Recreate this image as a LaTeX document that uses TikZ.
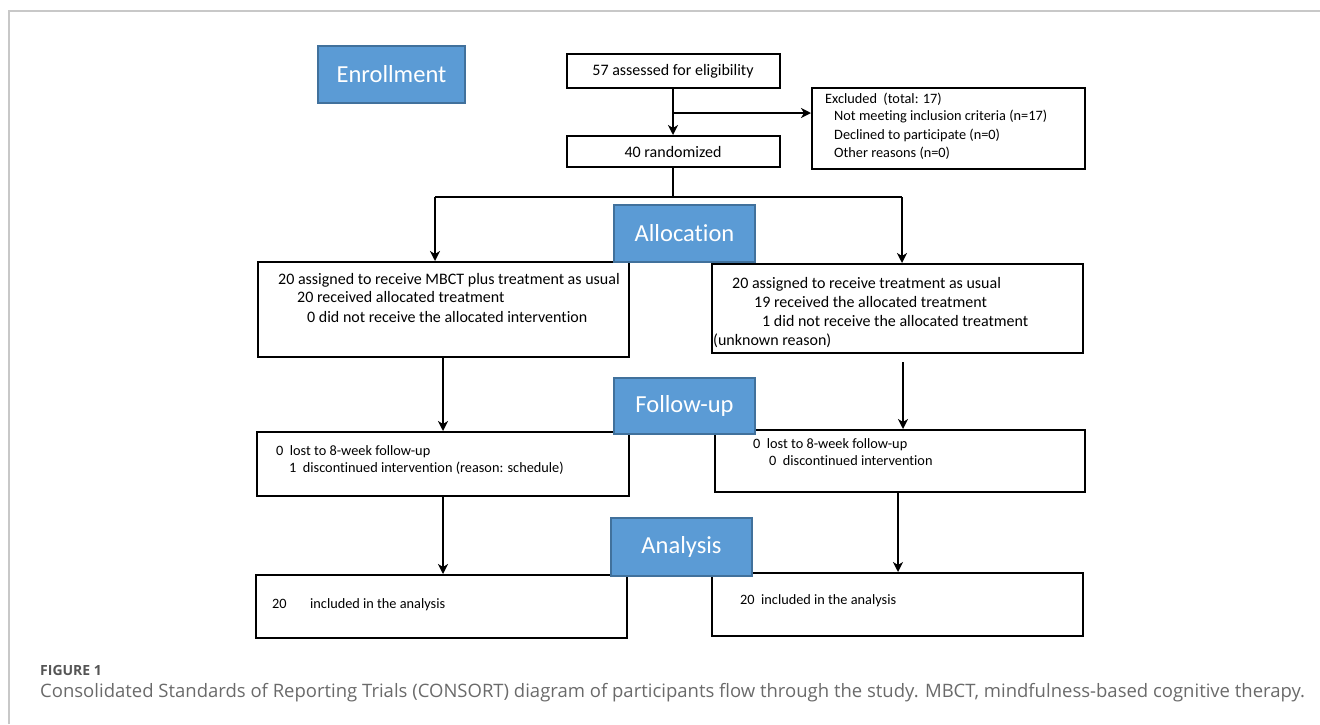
\documentclass[tikz,border=0pt]{standalone}
\usepackage{fontspec}
\setmainfont{Carlito}[Ligatures={NoCommon}]
\newfontfamily\capfont{Open Sans}
\usetikzlibrary{arrows.meta}
\definecolor{lblue}{HTML}{5B9BD5}
\definecolor{lblueb}{HTML}{41719C}
\definecolor{frame}{HTML}{C8C8C8}
\definecolor{capgray}{HTML}{6A6A6A}
\definecolor{figgray}{HTML}{555555}
\tikzset{
  flowbox/.style={draw=black, line width=2pt, fill=white, inner sep=0pt},
  labelbox/.style={draw=lblueb, line width=1.5pt, fill=lblue, text=white, inner sep=0pt, font=\fontsize{24.5}{28}\selectfont},
  bigtxt/.style={inner sep=0pt, anchor=mid west, font=\fontsize{16}{19}\selectfont},
  smalltxt/.style={inner sep=0pt, anchor=mid west, font=\fontsize{14.3}{17}\selectfont},
  flowarrow/.style={line width=1.8pt, -{Stealth[length=10pt,width=10pt,inset=3pt]}},
  flowline/.style={line width=1.8pt},
}
\begin{document}
\begin{tikzpicture}[x=1pt,y=-1pt]
\useasboundingbox (0,0) rectangle (1320,724);
% frame
\draw[frame, line width=1.5pt] (9,724) -- (9,11) -- (1320,11);

% flow boxes
\node[flowbox, minimum width=213pt, minimum height=34pt] (a57) at (673,71) {\fontsize{16}{19}\selectfont 57 assessed for eligibility};
\node[flowbox, minimum width=213pt, minimum height=31pt] (rnd) at (673,151.5) {\fontsize{16}{19}\selectfont 40 randomized};
\node[flowbox, minimum width=273pt, minimum height=81pt] (exc) at (948.5,128.5) {};
\node[flowbox, minimum width=371pt, minimum height=95pt] (L1) at (443,309.5) {};
\node[flowbox, minimum width=371pt, minimum height=89pt] (R1) at (897.5,308.5) {};
\node[flowbox, minimum width=372pt, minimum height=64pt] (L2) at (443,464) {};
\node[flowbox, minimum width=370pt, minimum height=62pt] (R2) at (900,461) {};
\node[flowbox, minimum width=371pt, minimum height=63pt] (L3) at (441.5,606.5) {};
\node[flowbox, minimum width=371pt, minimum height=63pt] (R3) at (897.5,604.5) {};

% texts
\node[smalltxt] (e1) at (825,101) {Excluded\ \ (total: 17)};
\node[smalltxt] (e2) at (834,118.5) {Not meeting inclusion criteria (n=17)};
\node[smalltxt] (e3) at (834,137) {Declined to participate (n=0)};
\node[smalltxt] (e4) at (834,155) {Other reasons (n=0)};

\node[bigtxt] (l11) at (278,282) {20 assigned to receive MBCT plus treatment as usual};
\node[bigtxt] (l12) at (297,300.5) {20 received allocated treatment};
\node[bigtxt] (l13) at (307,320) {0 did not receive the allocated intervention};

\node[bigtxt] (r11) at (732,286) {20 assigned to receive treatment as usual};
\node[bigtxt] (r12) at (754,305) {19 received the allocated treatment};
\node[bigtxt] (r13) at (762,324) {1 did not receive the allocated treatment};
\node[bigtxt] (r14) at (713,343) {(unknown reason)};

\node[smalltxt] (l21) at (276,453) {0\ \ lost to 8-week follow-up};
\node[smalltxt] (l22) at (289,470) {1\ \ discontinued intervention (reason: schedule)};

\node[smalltxt] (r21) at (753,446) {0\ \ lost to 8-week follow-up};
\node[smalltxt] (r22) at (769,463) {0\ \ discontinued intervention};

\node[smalltxt] (l31) at (272,606) {20};
\node[smalltxt] (l32) at (310,606) {included in the analysis};
\node[smalltxt] (r31) at (740,602) {20\ \ included in the analysis};

% connectors
\coordinate (j1) at (673,113);
\coordinate (sp) at (673,197);
\coordinate (sl) at (435,197);
\coordinate (sr) at (902,197);
\draw[flowarrow] (a57.south) -- (rnd.north);
\draw[flowarrow] (j1) -- (j1 -| exc.west);
\draw[flowline] (rnd.south) -- (sp);
\draw[flowline] (sl) -- (sr);
\draw[flowarrow] (sl) -- (sl |- L1.north);
\draw[flowarrow] (sr) -- (sr |- R1.north);
\draw[flowarrow] (L1.south) -- (L1.south |- L2.north);
\draw[flowarrow, shorten <=8pt] ([xshift=5.5pt]R1.south) -- ([xshift=5.5pt]R1.south |- R2.north);
\draw[flowarrow] (L2.south) -- (L2.south |- L3.north);
\draw[flowarrow] ([xshift=-2pt]R2.south) -- ([xshift=-2pt]R2.south |- R3.north);

% stage labels
\node[labelbox, minimum width=147pt, minimum height=57pt] (enr) at (391.5,74.5) {Enrollment};
\node[labelbox, minimum width=141pt, minimum height=57pt] (alc) at (684.5,233.5) {Allocation};
\node[labelbox, minimum width=141pt, minimum height=56pt] (fu) at (684.5,406) {Follow-up};
\node[labelbox, minimum width=141pt, minimum height=58pt] (an) at (681.5,547) {Analysis};

% caption
\node[inner sep=0pt, anchor=base west, text=figgray, font=\capfont\bfseries\fontsize{14}{16}\selectfont] (fig) at (40,675) {FIGURE 1};
\node[inner sep=0pt, anchor=base west, text=capgray, font=\capfont\fontsize{18.5}{22}\selectfont] (cap) at (40,697) {Consolidated Standards of Reporting Trials (CONSORT) diagram of participants flow through the study. MBCT, mindfulness-based cognitive therapy.};
\end{tikzpicture}
\end{document}
